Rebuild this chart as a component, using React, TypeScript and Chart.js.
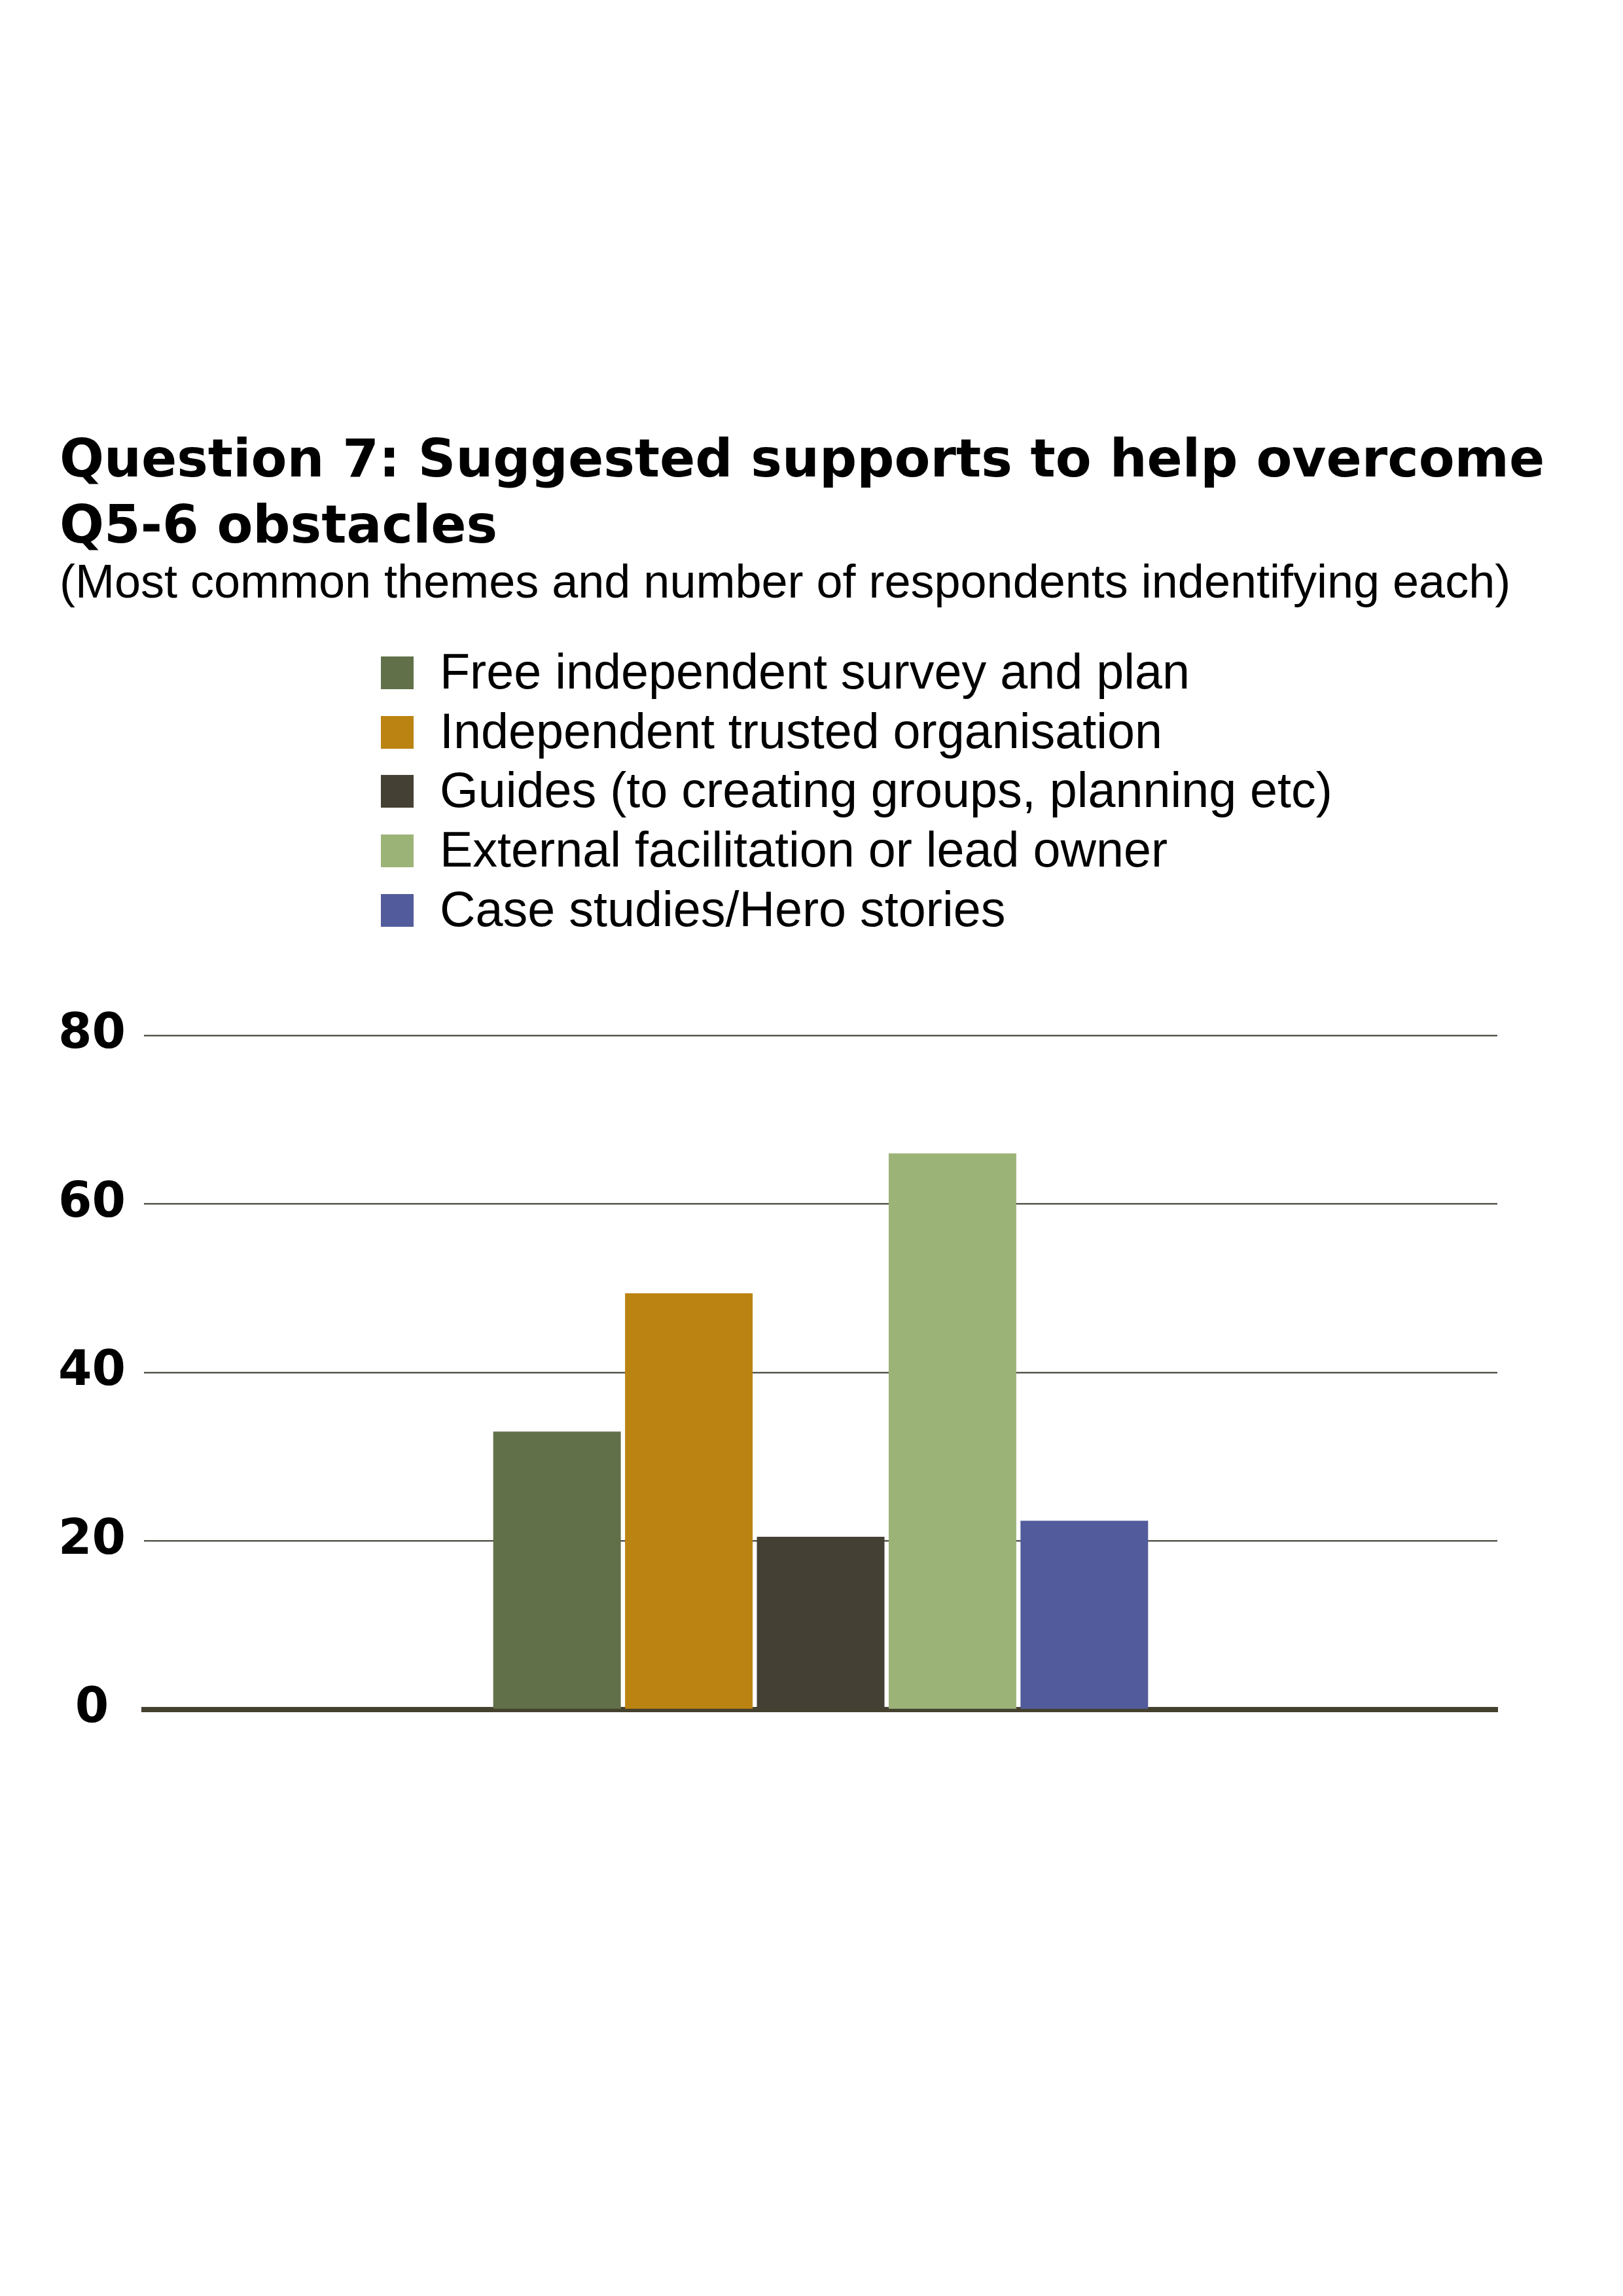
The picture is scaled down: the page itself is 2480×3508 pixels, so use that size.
import React, { useEffect, useRef } from 'react';
import { Chart, registerables } from 'chart.js';

Chart.register(...registerables);

// chart data
const categories = ['Suggested supports'];
const seriesNames = [
  'Free independent survey and plan',
  'Independent trusted organisation',
  'Guides (to creating groups, planning etc)',
  'External facilitation or lead owner',
  'Case studies/Hero stories',
];
const seriesValues = [33, 49.4, 20.5, 66, 22.4];
const seriesColors = ['#627049', '#bb8311', '#454034', '#9cb378', '#525c9c'];
const yTicks = [0, 20, 40, 60, 80];

const titleLines = ['Question 7: Suggested supports to help overcome', 'Q5-6 obstacles'];
const subtitle = '(Most common themes and number of respondents indentifying each)';

const ChartCanvas = () => {
  const chartRef = useRef(null);

  useEffect(() => {
    const ctx = chartRef.current.getContext('2d');
    const chartInstance = new Chart(ctx, {
      type: 'bar',
      data: {
        labels: categories,
        datasets: seriesNames.map((name, i) => ({
          label: name,
          data: [seriesValues[i]],
          backgroundColor: seriesColors[i],
          borderWidth: 0,
          categoryPercentage: 0.487,
          barPercentage: 0.968,
        })),
      },
      options: {
        responsive: false,
        animation: false,
        devicePixelRatio: 1,
        layout: { padding: { top: 82, right: 192, bottom: 88, left: 0 } },
        scales: {
          x: {
            z: 1,
            grid: { display: false, drawTicks: false },
            ticks: { display: false },
            border: { display: true, color: '#45412f', width: 8 },
          },
          y: {
            z: 1,
            min: 0,
            max: yTicks[yTicks.length - 1],
            afterBuildTicks: (scale) => {
              scale.ticks = yTicks.map((v) => ({ value: v }));
            },
            afterFit: (scale) => {
              scale.width = 220;
            },
            ticks: {
              color: '#000',
              crossAlign: 'center',
              padding: 28,
              font: { family: 'DejaVu Sans', weight: 'bold', size: 74 },
            },
            grid: {
              drawTicks: false,
              lineWidth: 2.5,
              color: (c) => (c.tick && c.tick.value === 0 ? 'rgba(0,0,0,0)' : 'rgba(45,45,35,0.8)'),
            },
            border: { display: false },
          },
        },
        plugins: {
          legend: { display: false },
          title: { display: false },
          tooltip: { enabled: false },
        },
      },
    });

    return () => {
      chartInstance.destroy();
    };
  }, []);

  return (
    <canvas
      ref={chartRef}
      width={2480}
      height={1200}
      style={{ position: 'absolute', left: 0, top: 1500, width: 2480, height: 1200 }}
    />
  );
};

const App = () => {
  return (
    <div style={{ position: 'absolute', left: 0, top: 0, width: 2480, height: 3508, background: '#fff' }}>
      <div
        style={{
          position: 'absolute',
          left: 91,
          top: 650,
          fontFamily: 'DejaVu Sans',
          fontWeight: 'bold',
          fontSize: 80,
          lineHeight: '101px',
          color: '#000',
          whiteSpace: 'nowrap',
        }}
      >
        {titleLines.map((t) => (
          <div key={t}>{t}</div>
        ))}
      </div>
      <div
        style={{
          position: 'absolute',
          left: 91,
          top: 852,
          fontFamily: 'Liberation Sans',
          fontSize: 72,
          lineHeight: '72px',
          color: '#000',
          whiteSpace: 'nowrap',
        }}
      >
        {subtitle}
      </div>
      {seriesNames.map((name, i) => (
        <div
          key={name}
          style={{
            position: 'absolute',
            left: 582,
            top: 981 + 90.7 * i,
            height: 90,
            fontFamily: 'Liberation Sans',
            fontSize: 75.5,
            lineHeight: '90px',
            color: '#000',
            whiteSpace: 'nowrap',
          }}
        >
          <span
            style={{
              position: 'absolute',
              left: 0,
              top: 22,
              width: 50,
              height: 50,
              background: seriesColors[i],
            }}
          />
          <span style={{ marginLeft: 90 }}>{name}</span>
        </div>
      ))}
      <ChartCanvas />
    </div>
  );
};

export default App;
